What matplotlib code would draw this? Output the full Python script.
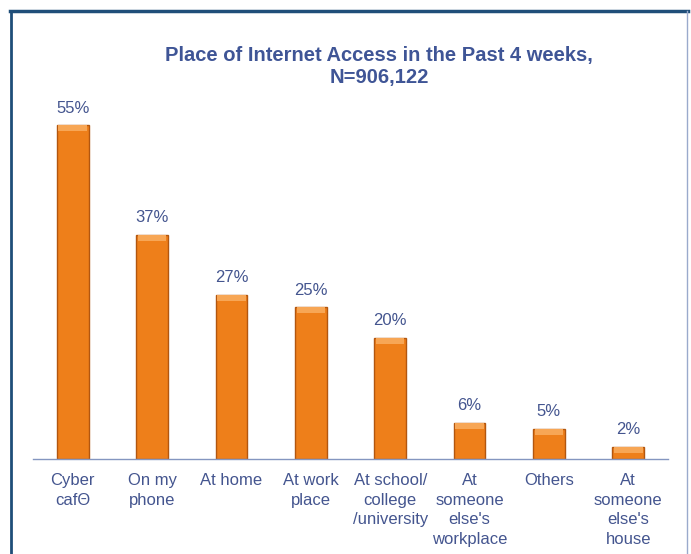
import matplotlib.pyplot as plt
from matplotlib.lines import Line2D
import numpy as np

categories = ["Cyber\ncafΘ", "On my\nphone", "At home", "At work\nplace",
              "At school/\ncollege\n/university", "At\nsomeone\nelse's\nworkplace",
              "Others", "At\nsomeone\nelse's\nhouse"]
values = [55, 37, 27, 25, 20, 6, 5, 2]
value_labels = ["55%", "37%", "27%", "25%", "20%", "6%", "5%", "2%"]

text_color = "#44558F"
plt.rcParams['font.family'] = ['Liberation Sans', 'DejaVu Sans']

W, H = 691, 554
fig = plt.figure(figsize=(W / 100, H / 100), dpi=100)
# axes placed in pixel terms: x 33..668, baseline at y=459, top at 95
ax = fig.add_axes([33 / W, (H - 459) / H, (668 - 33) / W, (459 - 95) / H])

x = np.arange(len(categories))
ax.bar(x, values, width=0.4, color="#EE7F1A", edgecolor="#B2560F", linewidth=1.0, zorder=2)
# light top strip for a bevel look
ax.bar(x, [min(v, 1.0) for v in values], bottom=[v - min(v, 1.0) for v in values],
       width=0.36, color="#F7A655", linewidth=0, zorder=3)

for xi, v, lab in zip(x, values, value_labels):
    ax.annotate(lab, (xi, v), xytext=(0, 7), textcoords="offset points",
                ha="center", va="bottom", fontsize=12, color=text_color)

ax.set_xlim(-0.5, len(categories) - 0.5)
ax.set_ylim(0, 60)
ax.set_xticks(x)
ax.set_xticklabels(categories, fontsize=12, color=text_color, linespacing=1.4)
ax.tick_params(axis="x", length=0, pad=10)
ax.set_yticks([])
for s in ["top", "right", "left"]:
    ax.spines[s].set_visible(False)
ax.spines["bottom"].set_color("#8496C0")
ax.spines["bottom"].set_linewidth(1.0)

fig.text(379 / W, 1 - 55 / H, "Place of Internet Access in the Past 4 weeks,",
         ha="center", va="center", fontsize=14.5, fontweight="bold", color="#3F5596")
fig.text(379 / W, 1 - 78 / H, "N=906,122",
         ha="center", va="center", fontsize=14.5, fontweight="bold", color="#3F5596")

# frame around the slide
fig.add_artist(Line2D([10 / W, 688 / W], [1 - 11 / H, 1 - 11 / H], color="#1F4E79", linewidth=2.5))
fig.add_artist(Line2D([11 / W, 11 / W], [0, 1 - 11 / H], color="#1F4E79", linewidth=2.0))
fig.add_artist(Line2D([687 / W, 687 / W], [0, 1 - 11 / H], color="#9AAACC", linewidth=1.0))

fig.savefig("out.png", dpi=100)
